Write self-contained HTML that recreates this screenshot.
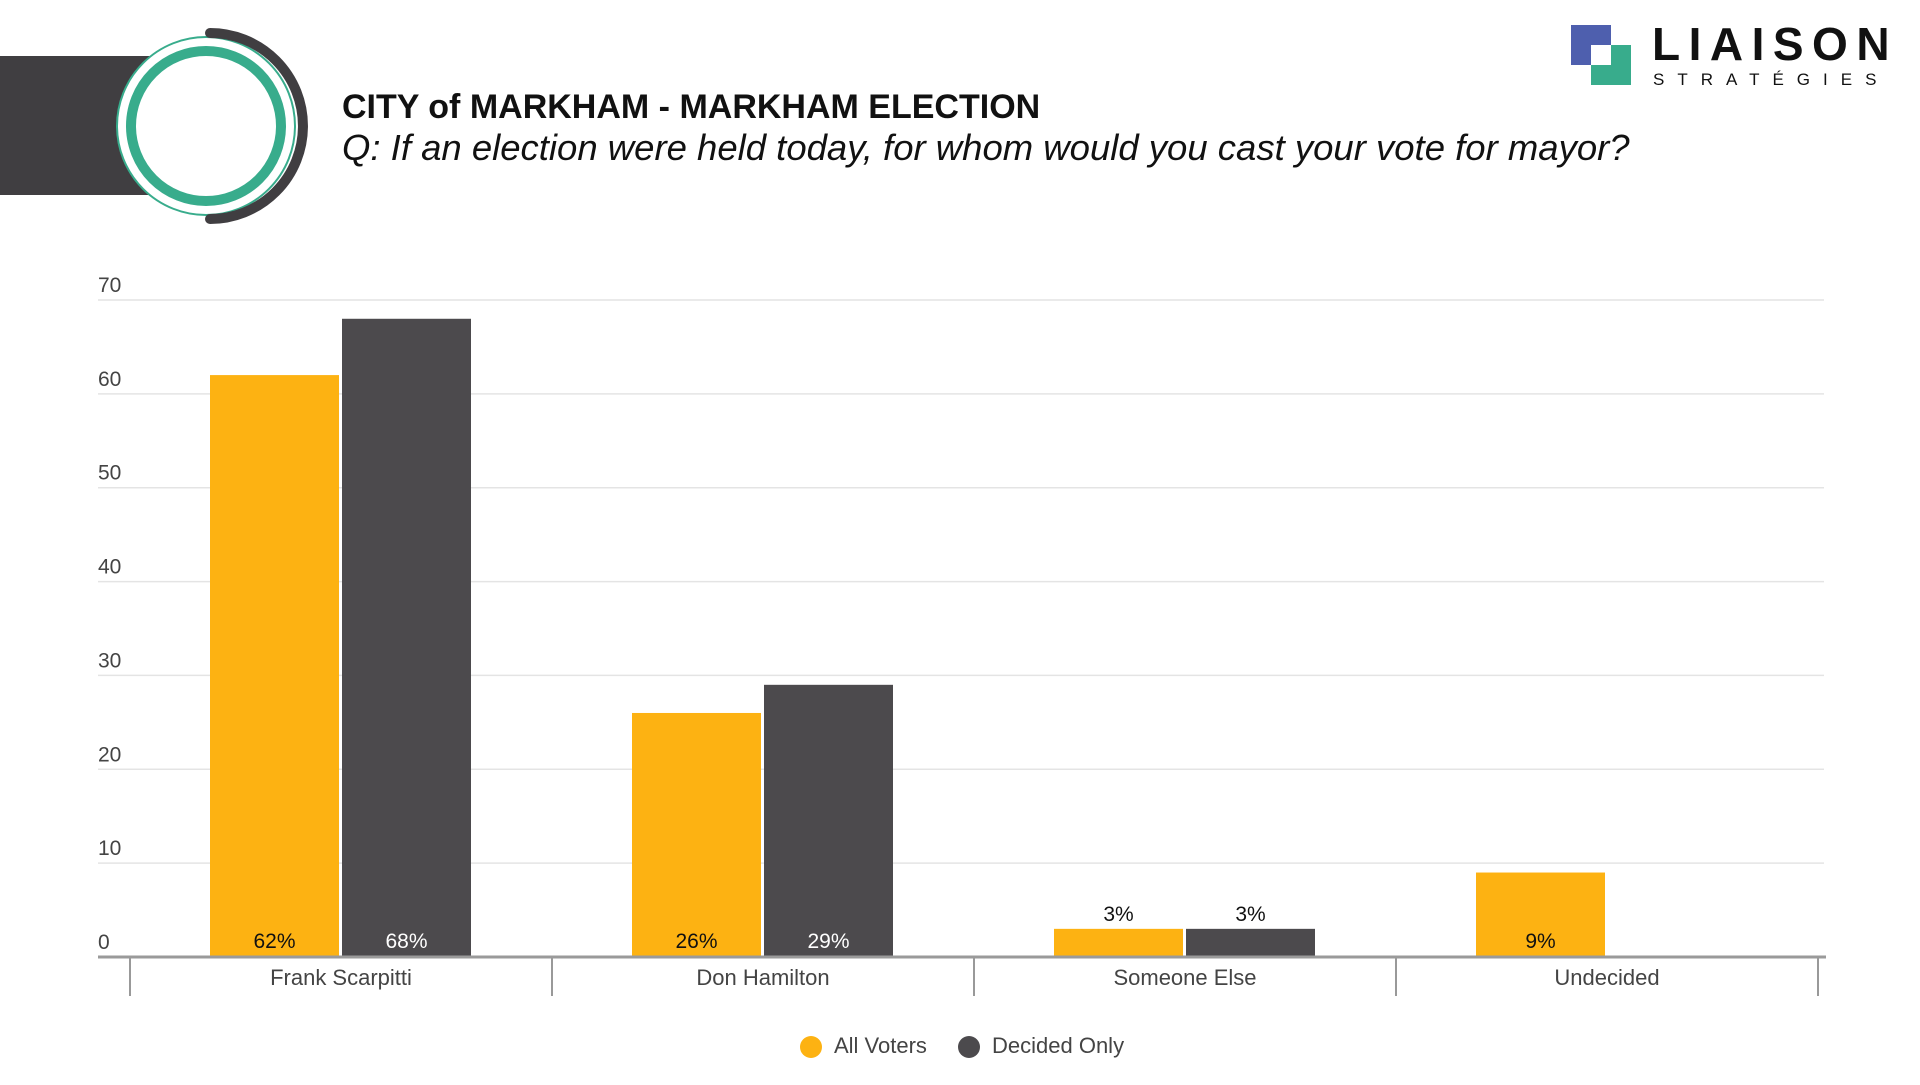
<!DOCTYPE html>
<html><head><meta charset="utf-8"><style>
html,body{margin:0;padding:0;background:#fff;}
body{width:1920px;height:1080px;overflow:hidden;font-family:"Liberation Sans",sans-serif;}
</style></head><body>
<svg id="chart" width="1920" height="1080" xmlns="http://www.w3.org/2000/svg">
  <g>
    <rect x="0" y="56" width="160" height="139" fill="#403e41"/>
    <circle cx="206" cy="126" r="89" fill="#fff" stroke="#38ac8c" stroke-width="2"/>
    <circle cx="206" cy="126" r="75" fill="#fff" stroke="#38ac8c" stroke-width="10"/>
    <path d="M210 33 A93 93 0 0 1 210 219" fill="none" stroke="#403e41" stroke-width="10" stroke-linecap="round"/>
  </g>
  <text x="342" y="118" font-size="34" font-weight="bold" fill="#111">CITY of MARKHAM - MARKHAM ELECTION</text>
  <text x="342" y="160" font-size="36.5" font-style="italic" fill="#111">Q: If an election were held today, for whom would you cast your vote for mayor?</text>
  <g>
    <rect x="1571" y="25" width="40" height="40" fill="#4e5fae"/>
    <rect x="1591" y="45" width="40" height="40" fill="#38ac8c"/>
    <rect x="1591" y="45" width="20" height="20" fill="#fff"/>
    <text x="1652" y="60" font-size="46" font-weight="bold" letter-spacing="8.5" fill="#111">LIAISON</text>
    <text x="1653" y="85" font-size="17" letter-spacing="13" fill="#111">STRATÉGIES</text>
  </g>
  <g id="plot"></g>
</svg>
<script>
const categories = ["Frank Scarpitti","Don Hamilton","Someone Else","Undecided"];
const allVoters = [62, 26, 3, 9];
const decidedOnly = [68, 29, 3, null];
const yTicks = [0,10,20,30,40,50,60,70];

const NS="http://www.w3.org/2000/svg";
const plot=document.getElementById('plot');
const x0=130, catW=422, y0=957, yTop=300, yMax=70;
const y=v=>y0-(v/yMax)*(y0-yTop);
function mk(tag,attrs,txt){const e=document.createElementNS(NS,tag);for(const k in attrs)e.setAttribute(k,attrs[k]);if(txt!==undefined)e.textContent=txt;plot.appendChild(e);return e;}

yTicks.forEach(t=>{
  if(t>0){const g=mk('line',{x1:98,x2:1824,y1:y(t),y2:y(t),stroke:'#e4e4e4','stroke-width':1.5});
  
  }
  const l=mk('text',{x:98,y:y(t)-8,'font-size':21,fill:'#444'},String(t));
  
  
});

const seriesList=[{vals:allVoters,color:'#fdb212',txt:'#111',name:'all-voters'},{vals:decidedOnly,color:'#4c4a4d',txt:'#fff',name:'decided-only'}];
categories.forEach((c,i)=>{
  const cx=x0+i*catW;
  seriesList.forEach((s,j)=>{
    const v=s.vals[i];
    if(v===null||v===undefined)return;
    const bx=cx+80+j*132, bw=129;
    const r=mk('rect',{x:bx,y:y(v),width:bw,height:y0-y(v),fill:s.color});
    
    
    const inside=(y0-y(v))>35;
    const t=mk('text',{x:bx+bw/2,y:inside?948:y(v)-8,'text-anchor':'middle','font-size':21,fill:inside?s.txt:'#111'},v+'%');
    
    
  });
  const cl=mk('text',{x:cx+catW/2,y:985,'text-anchor':'middle','font-size':22,fill:'#444'},c);
  
  
});
for(let i=0;i<=categories.length;i++){
  const tk=mk('line',{x1:x0+i*catW,x2:x0+i*catW,y1:y0,y2:996,stroke:'#999','stroke-width':2});
  
  
}
const ax=mk('line',{x1:98,x2:1826,y1:y0,y2:y0,stroke:'#9a9a9a','stroke-width':3});



const legendItems=[{label:'All Voters',color:'#fdb212',x:811},{label:'Decided Only',color:'#4c4a4d',x:969}];
legendItems.forEach((it,k)=>{
  const d=mk('circle',{cx:it.x,cy:1047,r:11,fill:it.color});
  
  
  const t=mk('text',{x:it.x+23,y:1053,'font-size':22,fill:'#444'},it.label);
  
  
});
</script>
</body></html>
